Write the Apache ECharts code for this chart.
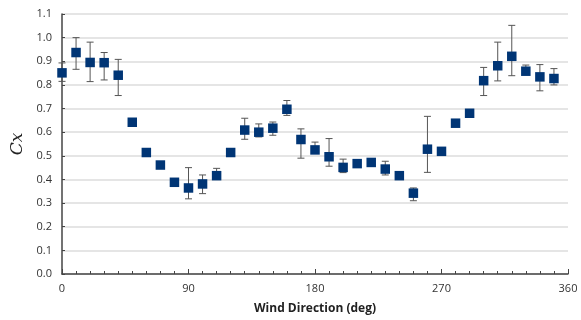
<!DOCTYPE html>
<html>
<head>
<meta charset="utf-8">
<script src="https://cdn.jsdelivr.net/npm/echarts@6/dist/echarts.min.js"></script>
<style>
  html, body { margin: 0; padding: 0; background: #fff; }
  #chart { width: 581px; height: 320px; }
</style>
</head>
<body>
<div id="chart"></div>
<script>
// wind direction (deg)
const angles = [0, 10, 20, 30, 40, 50, 60, 70, 80, 90, 100, 110, 120, 130, 140, 150, 160, 170,
  180, 190, 200, 210, 220, 230, 240, 250, 260, 270, 280, 290, 300, 310, 320, 330, 340, 350]
// mean Cx
const cx = [0.851, 0.937, 0.895, 0.894, 0.841, 0.642, 0.514, 0.461, 0.388, 0.364, 0.381, 0.416,
  0.514, 0.609, 0.600, 0.617, 0.697, 0.569, 0.525, 0.496, 0.451, 0.467, 0.472, 0.444, 0.416,
  0.342, 0.528, 0.519, 0.638, 0.680, 0.818, 0.881, 0.921, 0.858, 0.834, 0.827]
// error bar ends (null = no bar)
const cxHigh = [0.893, 1.0, 0.981, 0.937, 0.908, null, null, null, null, 0.45, 0.419, 0.447,
  0.53, 0.659, 0.635, 0.643, 0.734, 0.614, 0.558, 0.573, 0.486, null, null, 0.477, null,
  0.364, 0.667, null, null, null, 0.874, 0.981, 1.052, 0.884, 0.886, 0.869]
const cxLow = [0.815, 0.866, 0.814, 0.821, 0.755, null, null, null, null, 0.318, 0.34, 0.40,
  0.50, 0.570, 0.58, 0.587, 0.671, 0.49, 0.51, 0.456, 0.429, null, null, 0.419, null,
  0.31, 0.43, null, null, null, 0.755, 0.817, 0.839, 0.845, 0.775, 0.80]

const points = angles.map((a, i) => [a, cx[i]])
const errData = angles
  .map((a, i) => [a, cxLow[i], cxHigh[i]])
  .filter(d => d[1] !== null)

const chart = echarts.init(document.getElementById('chart'))

const renderErr = (params, api) => {
  const x = api.value(0)
  const lo = api.coord([x, api.value(1)])
  const hi = api.coord([x, api.value(2)])
  const cap = 3.5
  const style = { stroke: '#555', lineWidth: 1 }
  return {
    type: 'group',
    children: [
      { type: 'line', shape: { x1: lo[0], y1: lo[1], x2: hi[0], y2: hi[1] }, style },
      { type: 'line', shape: { x1: hi[0] - cap, y1: hi[1], x2: hi[0] + cap, y2: hi[1] }, style },
      { type: 'line', shape: { x1: lo[0] - cap, y1: lo[1], x2: lo[0] + cap, y2: lo[1] }, style }
    ]
  }
}

chart.setOption({
  animation: false,
  grid: { left: 62, right: 13, top: 14, bottom: 44 },
  xAxis: {
    type: 'value',
    min: 0,
    max: 360,
    interval: 90,
    name: 'Wind Direction (deg)',
    nameLocation: 'middle',
    nameGap: 29,
    nameTextStyle: { fontFamily: 'Open Sans', fontWeight: 'bold', fontSize: 12, color: '#222' },
    axisLine: { lineStyle: { color: '#444', width: 1.5 } },
    axisTick: { show: true, inside: true, length: 5, lineStyle: { color: '#444' } },
    minorTick: { show: true, splitNumber: 9, length: 3, lineStyle: { color: '#444' } },
    axisLabel: { fontFamily: 'Open Sans', fontSize: 11, color: '#333', margin: 9 },
    splitLine: { show: false }
  },
  yAxis: {
    type: 'value',
    min: 0,
    max: 1.1,
    interval: 0.1,
    name: 'Cx',
    nameLocation: 'middle',
    nameRotate: 90,
    nameGap: 36,
    nameTextStyle: { fontFamily: 'DejaVu Serif', fontStyle: 'italic', fontSize: 17, color: '#222' },
    axisLine: { show: true, lineStyle: { color: '#444', width: 1.5 } },
    axisTick: { show: true, inside: true, length: 3, lineStyle: { color: '#444' } },
    axisLabel: {
      fontFamily: 'Open Sans', fontSize: 11, color: '#333', margin: 10,
      formatter: v => v.toFixed(1)
    },
    splitLine: { show: true, lineStyle: { color: '#ddd', width: 1.5 } }
  },
  series: [
    {
      type: 'custom',
      renderItem: renderErr,
      data: errData,
      encode: { x: 0, y: [1, 2] },
      z: 2,
      clip: false
    },
    {
      type: 'scatter',
      symbol: 'rect',
      symbolSize: 9.5,
      data: points,
      clip: false,
      itemStyle: { color: '#003575', opacity: 1 },
      z: 3
    }
  ]
})
</script>
</body>
</html>
